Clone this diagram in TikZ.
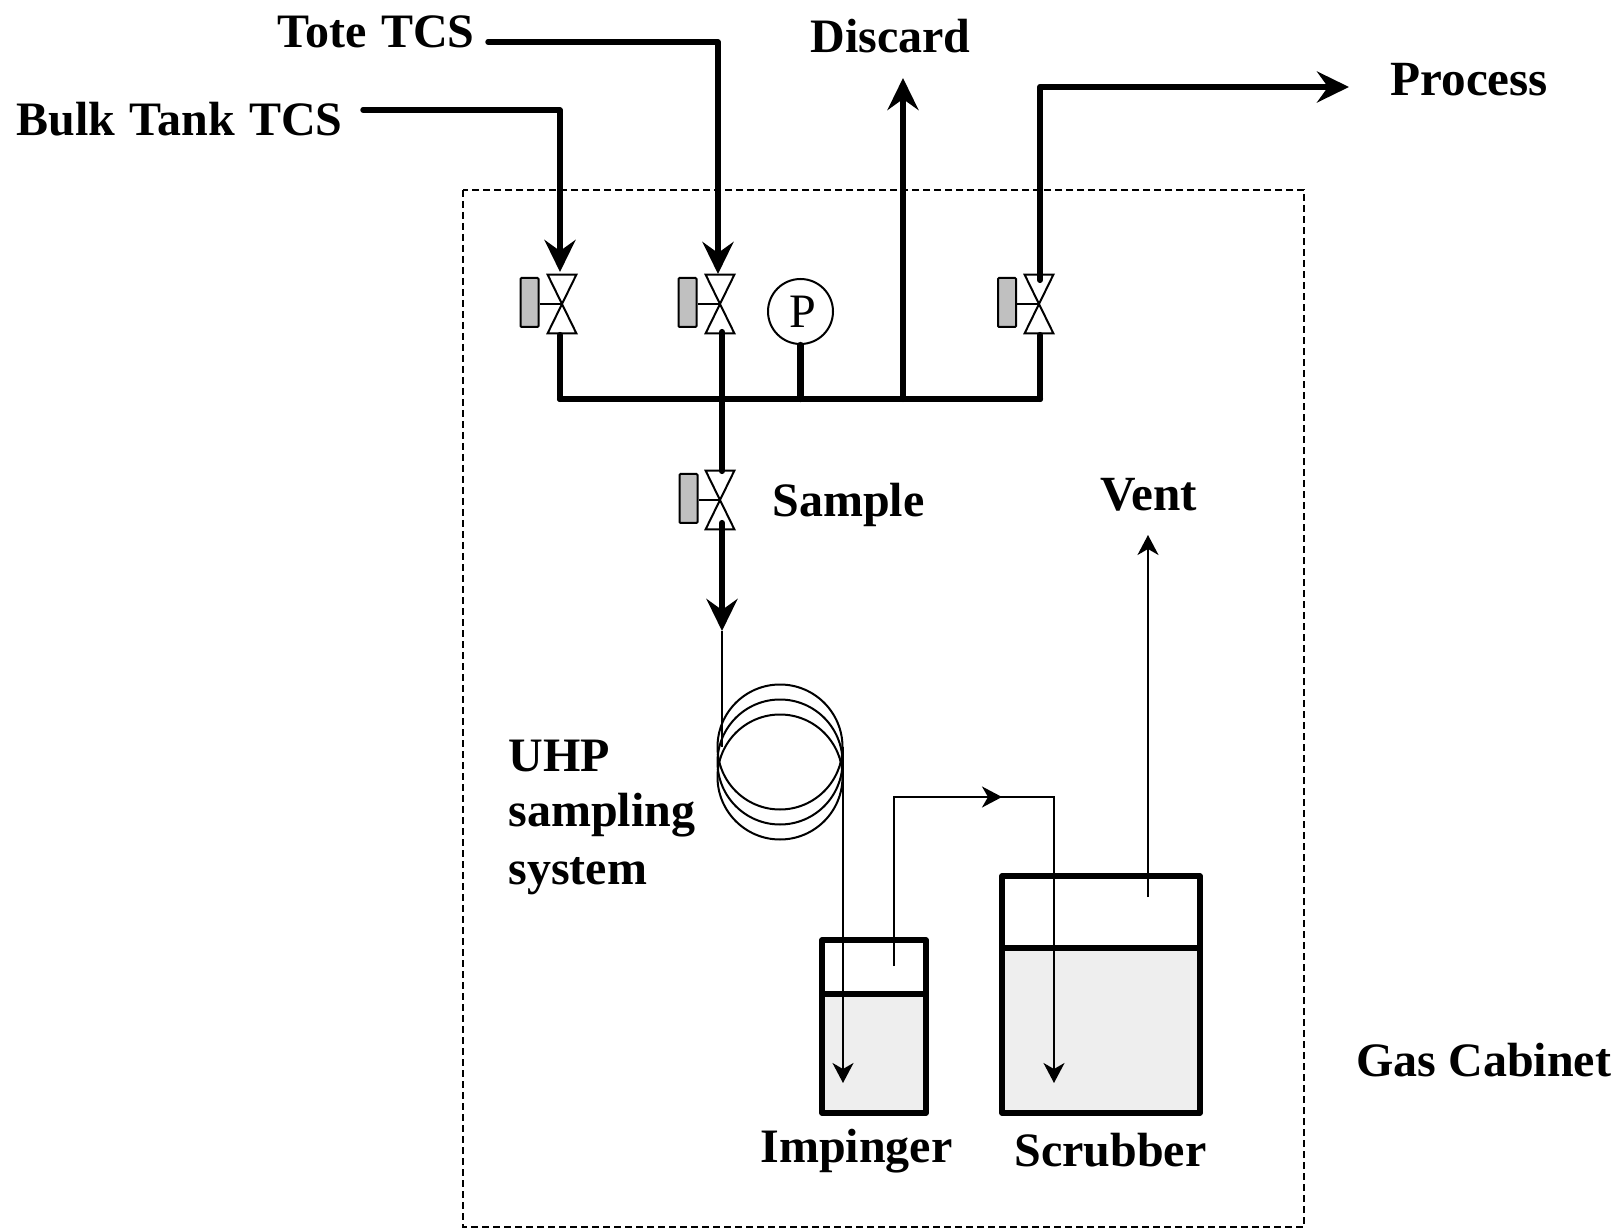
\documentclass[tikz,border=0pt]{standalone}
\usepackage{fontspec}
\usepackage{xcolor}
\usetikzlibrary{arrows.meta,positioning}
\setmainfont{Liberation Serif}
\definecolor{handle}{HTML}{C0C0C0}
\definecolor{liquid}{HTML}{EEEEEE}
\tikzset{
  label/.style={font=\fontsize{24}{24}\selectfont\bfseries,inner sep=0pt,anchor=base west},
  biglabel/.style={label,font=\fontsize{24.6}{24}\selectfont\bfseries},
  pipe/.style={line width=3.1pt,line cap=round,line join=round},
  feed/.style={pipe,-{Stealth[length=16pt,width=15.5pt,inset=5.5pt]}},
  tube/.style={line width=1pt},
  flow/.style={tube,-{Stealth[length=10pt,width=10.5pt,inset=3pt]}},
  vessel/.style={line width=2.7pt,line join=round},
  cabinet/.style={line width=0.9pt,dash pattern=on 3.5pt off 2pt},
  gauge/.style={draw,circle,line width=1pt,fill=white,minimum size=32.5pt,inner sep=0pt,font=\fontsize{24}{24}\selectfont},
  valvecore/.style={minimum width=14pt,minimum height=29pt,inner sep=0pt},
  actuator/.style={draw,fill=handle,line width=1pt,rounded corners=0.5pt,minimum width=9pt,minimum height=24.5pt,inner sep=0pt},
}
% #1 name, #2 centre x, #3 centre y, #4 actuator offset
\newcommand{\valve}[4]{
  \node[valvecore] (#1) at (#2,#3) {};
  \node[actuator] (#1h) at (#2-#4,#3-1.5) {};
  \draw[line width=1pt,line join=miter,fill=white] (#1.north west) -- (#1.north east) -- (#1.south west) -- (#1.south east) -- cycle;
  \draw[line width=1pt] (#1h.east |- #1.center) -- (#1.center);
}
\begin{document}
\begin{tikzpicture}[x=0.5pt,y=-0.5pt]
  \useasboundingbox (0,0) rectangle (1619,1230);

  % cabinet outline
  \draw[cabinet] (463,190) rectangle (1304,1227);

  % vessels
  \fill[liquid] (822,994) rectangle (926,1113);
  \draw[vessel] (822,940) rectangle (926,1113);
  \draw[vessel] (822,994) -- (926,994);
  \fill[liquid] (1002,948) rectangle (1200,1113);
  \draw[vessel] (1002,876) rectangle (1200,1113);
  \draw[vessel] (1002,948) -- (1200,948);

  % valves
  \valve{vbulk}{562}{304}{32.5}
  \valve{vtote}{720}{304}{32.5}
  \valve{vsample}{720}{500}{31.5}
  \valve{vproc}{1039}{304}{32}

  \node[gauge] (pg) at (800.5,311.5) {\hspace{2pt}P};

  % junctions and ends
  \coordinate (hleft) at (560,399);
  \coordinate (hmid) at (722,399);
  \coordinate (hdisc) at (903,399);
  \coordinate (hright) at (1040,399);
  \coordinate (disctip) at (903,78);
  \coordinate (bulkin) at (363,110);
  \coordinate (bulkbend) at (560,110);
  \coordinate (bulktip) at (560,272);
  \coordinate (totein) at (488,42);
  \coordinate (totebend) at (718,42);
  \coordinate (totetip) at (718,274);
  \coordinate (procbend) at (1040,87);
  \coordinate (proctip) at (1349,87);
  \coordinate (samptip) at (722,631);
  \coordinate (coilin) at (722,747);
  \coordinate (coilout) at (843,747);

  % thick lines
  \draw[pipe] (hleft) -- (hright);
  \draw[pipe] (560,335) -- (hleft);
  \draw[pipe] (722,332) -- (722,471);
  \draw[pipe] (pg.south) -- (pg.south |- hleft);
  \draw[pipe] (1040,335) -- (hright);
  \draw[feed] (hdisc) -- (disctip);
  \draw[feed,line width=2.7pt] (bulkin) -- (bulkbend) -- (bulktip);
  \draw[feed,line width=2.7pt] (totein) -- (totebend) -- (totetip);
  \draw[feed] (1040,280) -- (procbend) -- (proctip);
  \draw[feed] (722,523) -- (samptip);

  % coil
  \foreach \cy in {747,762,777}
    \draw[tube] (780,\cy) circle [radius=62.5];

  % thin lines
  \draw[tube] (samptip) -- (coilin);
  \draw[flow] (coilout) -- (843,1083);
  \draw[flow] (894,966) -- (894,797) -- (1002,797);
  \draw[flow] (1000,797) -- (1054,797) -- (1054,1083);
  \draw[flow] (1148,897) -- (1148,535);

  % labels
  \node[label] (tote) at (277,47.5) {Tote \hspace{1.5pt}TCS};
  \node[label] (bulk) at (16,135.5) {Bulk \hspace{1.3pt}Tank \hspace{1.3pt}TCS};
  \node[label] (disc) at (810,53) {Discard};
  \node[biglabel] (proc) at (1390,96) {Process};
  \node[label] (samp) at (772,516.5) {Sample};
  \node[biglabel] (vent) at (1100,510) {Vent};
  \node[label] (uhp1) at (508,771) {UHP};
  \node[label] (uhp2) at (508,826.5) {sampling};
  \node[label] (uhp3) at (508,884) {system};
  \node[label] (gas) at (1356,1076) {Gas Cabinet};
  \node[label] (imp) at (760,1162.5) {Impinger};
  \node[label] (scr) at (1014,1166) {Scrubber};
\end{tikzpicture}
\end{document}
